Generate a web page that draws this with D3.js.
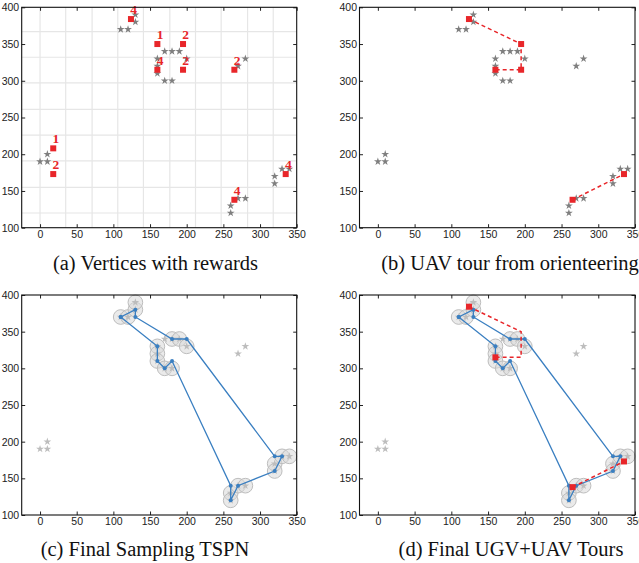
<!DOCTYPE html>
<html>
<head>
<meta charset="utf-8">
<script src="https://cdn.jsdelivr.net/npm/d3@7"></script>
<style>
  body { margin: 0; background: #fff; }
  .tick text { font-family: "Liberation Sans", Arial, sans-serif; font-size: 10.5px; fill: #222; }
  .caption { font-family: "Liberation Serif", "Times New Roman", serif; font-size: 20.5px; fill: #111; }
  .rlabel { font-family: "Liberation Serif", "Times New Roman", serif; font-size: 13.5px; font-weight: bold; fill: #e8262a; }
</style>
</head>
<body>
<svg id="fig" width="639" height="563"></svg>
<script>
// target stars (candidate vertices)
const starX = [0, 10, 10, 110, 120, 130, 130, 160, 160, 160, 170, 180, 190, 200, 170, 180, 270, 280, 260, 260, 270, 280, 320, 320, 330, 340];
const starY = [190, 190, 200, 370, 370, 380, 390, 330, 320, 310, 340, 340, 340, 330, 300, 300, 320, 330, 130, 120, 140, 140, 170, 160, 180, 180];

// reward vertices
const rewardX = [18, 18, 124, 160, 195, 160, 195, 265, 265, 335];
const rewardY = [208, 173, 384, 350, 350, 315, 315, 315, 138, 173];
const rewardVal = [1, 2, 4, 1, 2, 4, 2, 2, 4, 4];

// grid of panel (a)
const gridX = [0, 35, 71, 106, 141, 177, 212, 247, 283, 318];
const gridY = [120, 155, 191, 226, 261, 297, 332, 367];

// UAV tours from orienteering
const uav1X = [124, 195, 195, 160];
const uav1Y = [384, 350, 315, 315];
const uav2X = [265, 335];
const uav2Y = [138, 173];
// launch / landing points kept in (d)
const launchX = [124, 160, 265, 335];
const launchY = [384, 315, 138, 173];

// sampled neighbourhoods (circles) and TSPN tour
const circX = [110, 120, 130, 130, 180, 190, 200, 160, 160, 160, 170, 180, 260, 260, 270, 280, 320, 320, 330, 340];
const circY = [370, 370, 380, 390, 340, 340, 330, 330, 320, 310, 300, 300, 130, 120, 140, 140, 170, 160, 180, 180];
const tourX = [110, 130, 130, 180, 200, 320, 330, 320, 270, 260, 260, 180, 170, 160, 160, 110];
const tourY = [370, 380, 370, 340, 340, 180, 180, 160, 140, 120, 140, 310, 300, 310, 330, 370];

const xTicks = [0, 50, 100, 150, 200, 250, 300, 350];
const yTicks = [100, 150, 200, 250, 300, 350, 400];
const captions = ["(a) Vertices with rewards", "(b) UAV tour from orienteering",
                  "(c) Final Sampling TSPN", "(d) Final UGV+UAV Tours"];

const svg = d3.select("#fig");
const RED = "#e8262a", BLUE = "#3a7fc1";

const panels = [
  {left: 21.7, top: 7.3, w: 275, h: 220.4, cap: [155.5, 270]},
  {left: 359.5, top: 7.3, w: 275.5, h: 220.4, cap: [510, 270]},
  {left: 21.7, top: 295, w: 275, h: 220, cap: [145, 556]},
  {left: 359.5, top: 295, w: 275.5, h: 220, cap: [511, 556]}
];

const zip = (a, b) => a.map((v, i) => [v, b[i]]);

function drawPanel(idx) {
  let p = panels[idx];
  let g = svg.append("g").attr("transform", `translate(${p.left},${p.top})`);
  let x = d3.scaleLinear().domain([-25, 350]).range([0, p.w]);
  let y = d3.scaleLinear().domain([100, 400]).range([p.h, 0]);

  if (idx === 0) {
    g.selectAll(".gx").data(gridX).enter().append("line")
      .attr("x1", d => x(d)).attr("x2", d => x(d))
      .attr("y1", 0).attr("y2", p.h)
      .attr("stroke", "#e6e6e6").attr("stroke-width", 1.2);
    g.selectAll(".gy").data(gridY).enter().append("line")
      .attr("y1", d => y(d)).attr("y2", d => y(d))
      .attr("x1", 0).attr("x2", p.w)
      .attr("stroke", "#e6e6e6").attr("stroke-width", 1.2);
  }

  // axes with inward ticks on all four sides
  let fmt = d3.format("d");
  g.append("g").attr("transform", `translate(0,${p.h})`)
    .call(d3.axisBottom(x).tickValues(xTicks).tickFormat(fmt).tickSizeInner(-3.5).tickSizeOuter(0).tickPadding(3));
  g.append("g")
    .call(d3.axisLeft(y).tickValues(yTicks).tickFormat(fmt).tickSizeInner(-3.5).tickSizeOuter(0).tickPadding(2.5));
  g.append("g")
    .call(d3.axisTop(x).tickValues(xTicks).tickFormat("").tickSizeInner(-3.5).tickSizeOuter(0));
  g.append("g").attr("transform", `translate(${p.w},0)`)
    .call(d3.axisRight(y).tickValues(yTicks).tickFormat("").tickSizeInner(-3.5).tickSizeOuter(0));
  g.selectAll(".domain").remove();
  g.selectAll(".tick line").attr("stroke", "#222");

  let star = d3.symbol().type(d3.symbolStar).size(19);
  let faded = idx >= 2;

  if (faded) {
    g.selectAll(".circ").data(zip(circX, circY)).enter().append("circle")
      .attr("cx", d => x(d[0])).attr("cy", d => y(d[1]))
      .attr("r", x(10) - x(0))
      .attr("fill", "#d9d9d9").attr("fill-opacity", 0.55)
      .attr("stroke", "#bdbdbd").attr("stroke-width", 1);
  }

  g.selectAll(".star").data(zip(starX, starY)).enter().append("path")
    .attr("d", star)
    .attr("transform", d => `translate(${x(d[0])},${y(d[1])})`)
    .attr("fill", faded ? "#bdbdbd" : "#7f7f7f");

  if (faded) {
    let line = d3.line().x(d => x(d[0])).y(d => y(d[1]));
    g.append("path").datum(zip(tourX, tourY))
      .attr("d", line).attr("fill", "none")
      .attr("stroke", BLUE).attr("stroke-width", 1.3);
    g.selectAll(".tp").data(zip(tourX, tourY)).enter().append("circle")
      .attr("cx", d => x(d[0])).attr("cy", d => y(d[1])).attr("r", 2)
      .attr("fill", BLUE);
  }

  if (idx === 1 || idx === 3) {
    let line = d3.line().x(d => x(d[0])).y(d => y(d[1]));
    [zip(uav1X, uav1Y), zip(uav2X, uav2Y)].forEach(t => {
      g.append("path").datum(t).attr("d", line).attr("fill", "none")
        .attr("stroke", RED).attr("stroke-width", 1.5).attr("stroke-dasharray", "4,3");
    });
  }

  let sq = [];
  if (idx === 0) sq = zip(rewardX, rewardY);
  if (idx === 1) sq = zip(uav1X, uav1Y).concat(zip(uav2X, uav2Y));
  if (idx === 3) sq = zip(launchX, launchY);
  g.selectAll(".sq").data(sq).enter().append("rect")
    .attr("x", d => x(d[0]) - 3).attr("y", d => y(d[1]) - 3)
    .attr("width", 6).attr("height", 6).attr("fill", RED);

  if (idx === 0) {
    g.selectAll(".rl").data(rewardVal).enter().append("text")
      .attr("class", "rlabel")
      .attr("x", (d, i) => x(rewardX[i]) + 2.7)
      .attr("y", (d, i) => y(rewardY[i]) - 5)
      .attr("text-anchor", "middle")
      .text(d => d);
  }

  // box
  g.append("rect").attr("width", p.w).attr("height", p.h)
    .attr("fill", "none").attr("stroke", "#111").attr("stroke-width", 1.1);

  svg.append("text").attr("class", "caption")
    .attr("x", p.cap[0]).attr("y", p.cap[1])
    .attr("text-anchor", "middle").text(captions[idx]);
}

[0, 1, 2, 3].forEach(drawPanel);
</script>
</body>
</html>
